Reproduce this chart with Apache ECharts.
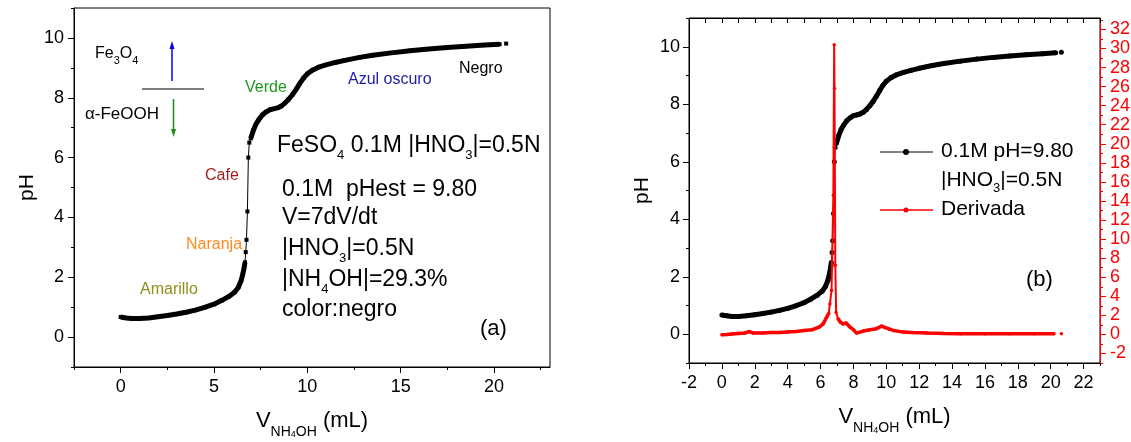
<!DOCTYPE html>
<html>
<head>
<meta charset="utf-8">
<script src="https://cdn.jsdelivr.net/npm/echarts@6/dist/echarts.min.js"></script>
<style>
html,body{margin:0;padding:0;background:#fff;}
#c{width:1131px;height:442px;}
</style>
</head>
<body>
<div id="c"></div>
<script>
// ---- data ----
const volume = [0.00,0.30,0.60,1.00,1.50,2.00,2.50,3.00,3.50,4.00,4.50,5.00,5.40,5.80,6.10,6.30,6.45,6.55,6.62,6.66,6.70,6.74,6.79,6.84,6.89,6.97,7.10,7.25,7.40,7.60,7.80,8.00,8.20,8.40,8.60,8.80,9.00,9.20,9.40,9.60,9.80,10.00,10.30,10.60,11.00,11.50,12.00,12.80,13.50,14.50,15.50,16.50,17.50,18.50,19.50,20.30,20.65];
const ph = [0.67,0.64,0.62,0.62,0.64,0.68,0.72,0.77,0.83,0.90,0.99,1.10,1.22,1.36,1.50,1.66,1.88,2.12,2.34,2.50,2.84,3.25,4.20,6.00,6.50,6.64,6.90,7.12,7.27,7.43,7.53,7.60,7.63,7.66,7.72,7.82,7.95,8.10,8.28,8.48,8.66,8.80,8.93,9.02,9.10,9.18,9.25,9.35,9.42,9.50,9.57,9.63,9.68,9.72,9.76,9.79,9.81];
const volumeDer = [0.00,0.30,0.60,1.00,1.40,1.65,1.90,2.50,3.00,3.50,4.00,4.50,5.00,5.50,5.90,6.16,6.37,6.50,6.57,6.67,6.78,6.83,6.85,6.90,6.95,7.07,7.20,7.38,7.55,7.79,8.00,8.19,8.40,8.60,9.00,9.40,9.72,9.90,10.20,10.43,11.04,11.60,12.50,13.50,14.50,16.00,17.50,19.00,20.20,20.65];
const derivative = [-0.03,0.00,0.05,0.10,0.15,0.30,0.15,0.15,0.20,0.20,0.25,0.30,0.40,0.50,0.75,1.10,1.80,2.20,3.20,4.60,14.60,30.40,25.80,7.25,2.30,1.65,1.30,1.10,1.20,0.77,0.50,0.14,0.24,0.35,0.49,0.60,0.87,0.75,0.55,0.42,0.24,0.20,0.14,0.10,0.07,0.07,0.07,0.07,0.07,0.07];

// tick labels
const volTicksA = [0,5,10,15,20];
const volMinorA = [-2.5,2.5,7.5,12.5,17.5,22.5];
const volTicksB = [-2,0,2,4,6,8,10,12,14,16,18,20,22];
const volMinorB = [-1,1,3,5,7,9,11,13,15,17,19,21,23];
const volAllB = [-2,-1,0,1,2,3,4,5,6,7,8,9,10,11,12,13,14,15,16,17,18,19,20,21,22,23];
const phTicks = [0,2,4,6,8,10];
const phMinor = [-1,1,3,5,7,9,11];
const derTicks = [-2,0,2,4,6,8,10,12,14,16,18,20,22,24,26,28,30,32];
const derMinor = [-3,-1,1,3,5,7,9,11,13,15,17,19,21,23,25,27,29,31,33];

// segments: steep jump and isolated final reading are drawn thin
const JUMP_LO = 6.66, JUMP_HI = 6.97, TAIL = 20.3;
const SPIKE_LO = 6.55, SPIKE_HI = 7.0;

const thickPH = volume.map((v,i) => (v > JUMP_LO && v < JUMP_HI) || v > TAIL ? [v, null] : [v, ph[i]]);
const thinPH = [];
volume.forEach((v,i) => { if (v > TAIL) thinPH.push([v, null]); thinPH.push([v, ph[i]]); });
const thickDer = volumeDer.map((v,i) => (v > SPIKE_LO && v < SPIKE_HI) || v > TAIL ? [v, null] : [v, derivative[i]]);
const thinDer = [];
volumeDer.forEach((v,i) => { if (v > TAIL) thinDer.push([v, null]); thinDer.push([v, derivative[i]]); });

const FONT = 'Liberation Sans, Arial, sans-serif';
const chart = echarts.init(document.getElementById('c'), null, {renderer: 'canvas'});

function xTitle() {
  return {
    name: '{b|V}{s|NH}{t|4}{s|OH}{b| (mL)}',
    nameLocation: 'middle',
    nameGap: 36,
    nameTextStyle: {
      fontFamily: FONT, color: '#000',
      rich: {
        b: {fontSize: 22, lineHeight: 36, fontFamily: FONT, color: '#000'},
        s: {fontSize: 14, lineHeight: 14, verticalAlign: 'bottom', fontFamily: FONT, color: '#000'},
        t: {fontSize: 9, lineHeight: 1, verticalAlign: 'bottom', fontFamily: FONT, color: '#000'}
      }
    }
  };
}
const axLine = {show: true, onZero: false, lineStyle: {color: '#000', width: 1}};
const noLine = {show: false, onZero: false};
const lbl = (vals, margin, color) => ({show: true, customValues: vals, margin: margin, fontSize: 18, fontFamily: FONT, color: color || '#000'});

function rt(x, y, text, size, color, subSize) {
  return {
    type: 'text', x: x, y: y, z: 100,
    style: {
      text: text, fill: color || '#000', align: 'left', verticalAlign: 'middle',
      font: size + 'px ' + FONT,
      rich: {
        b: {fontSize: size, lineHeight: size + 8, fontFamily: FONT, fill: color || '#000'},
        s: {fontSize: subSize || Math.round(size * 0.62), lineHeight: Math.round(size * 0.25), verticalAlign: 'bottom', fontFamily: FONT, fill: color || '#000'}
      }
    }
  };
}

const option = {
  animation: false,
  backgroundColor: '#fff',
  grid: [
    {left: 74, top: 8, width: 476, height: 359, outerBoundsMode: 'none', show: true, borderColor: '#000', borderWidth: 1, backgroundColor: 'transparent'},
    {left: 689, top: 18, width: 411, height: 345, outerBoundsMode: 'none', show: true, borderColor: '#000', borderWidth: 1, backgroundColor: 'transparent'}
  ],
  xAxis: [
    Object.assign({type: 'value', gridIndex: 0, min: -2.5, max: 23, position: 'bottom',
      axisLine: axLine, splitLine: {show: false},
      axisTick: {show: true, customValues: volTicksA, length: 6, lineStyle: {color: '#000'}},
      axisLabel: lbl(volTicksA, 11)}, xTitle()),
    {type: 'value', gridIndex: 0, min: -2.5, max: 23, position: 'bottom',
      axisLine: noLine, splitLine: {show: false},
      axisTick: {show: true, customValues: volMinorA, length: 3, lineStyle: {color: '#000'}},
      axisLabel: {show: false, customValues: volMinorA}},
    Object.assign({type: 'value', gridIndex: 1, min: -2, max: 23, position: 'bottom',
      axisLine: axLine, splitLine: {show: false},
      axisTick: {show: true, customValues: volTicksB, length: 6, lineStyle: {color: '#000'}},
      axisLabel: lbl(volTicksB, 11)}, xTitle()),
    {type: 'value', gridIndex: 1, min: -2, max: 23, position: 'bottom',
      axisLine: noLine, splitLine: {show: false},
      axisTick: {show: true, customValues: volMinorB, length: 3, lineStyle: {color: '#000'}},
      axisLabel: {show: false, customValues: volMinorB}},
    {type: 'value', gridIndex: 1, min: -2, max: 23, position: 'top',
      axisLine: axLine, splitLine: {show: false},
      axisTick: {show: true, inside: true, customValues: volAllB, length: 5, lineStyle: {color: '#000'}},
      axisLabel: {show: false, customValues: volAllB}}
  ],
  yAxis: [
    {type: 'value', gridIndex: 0, min: -1, max: 11, position: 'left',
      name: 'pH', nameLocation: 'middle', nameGap: 36, nameRotate: 90,
      nameTextStyle: {fontSize: 21, fontFamily: FONT, color: '#000'},
      axisLine: axLine, splitLine: {show: false},
      axisTick: {show: true, customValues: phTicks, length: 6, lineStyle: {color: '#000'}},
      axisLabel: lbl(phTicks, 10)},
    {type: 'value', gridIndex: 0, min: -1, max: 11, position: 'left', offset: 0,
      axisLine: noLine, splitLine: {show: false},
      axisTick: {show: true, customValues: phMinor, length: 3, lineStyle: {color: '#000'}},
      axisLabel: {show: false, customValues: phMinor}},
    {type: 'value', gridIndex: 1, min: -1, max: 11, position: 'left',
      name: 'pH', nameLocation: 'middle', nameGap: 36, nameRotate: 90,
      nameTextStyle: {fontSize: 21, fontFamily: FONT, color: '#000'},
      axisLine: axLine, splitLine: {show: false},
      axisTick: {show: true, customValues: phTicks, length: 6, lineStyle: {color: '#000'}},
      axisLabel: lbl(phTicks, 9)},
    {type: 'value', gridIndex: 1, min: -1, max: 11, position: 'left', offset: 0,
      axisLine: noLine, splitLine: {show: false},
      axisTick: {show: true, customValues: phMinor, length: 3, lineStyle: {color: '#000'}},
      axisLabel: {show: false, customValues: phMinor}},
    {type: 'value', gridIndex: 1, min: -3, max: 33.2, position: 'right',
      axisLine: {show: true, onZero: false, lineStyle: {color: '#ff0000', width: 1}}, splitLine: {show: false},
      axisTick: {show: true, customValues: derTicks, length: 6, lineStyle: {color: '#ff0000'}},
      axisLabel: lbl(derTicks, 10, '#ff0000')},
    {type: 'value', gridIndex: 1, min: -3, max: 33.2, position: 'right', offset: 0,
      axisLine: noLine, splitLine: {show: false},
      axisTick: {show: true, customValues: derMinor, length: 3, lineStyle: {color: '#ff0000'}},
      axisLabel: {show: false, customValues: derMinor}}
  ],
  series: [
    {type: 'line', xAxisIndex: 0, yAxisIndex: 0, data: thickPH, showSymbol: false, connectNulls: false,
      lineStyle: {color: '#000', width: 5}, z: 3},
    {type: 'line', xAxisIndex: 0, yAxisIndex: 0, data: thinPH, symbol: 'rect', symbolSize: 4, showAllSymbol: true, connectNulls: false,
      itemStyle: {color: '#000'}, lineStyle: {color: '#000', width: 1}, z: 4},
    {type: 'line', xAxisIndex: 2, yAxisIndex: 2, data: thickPH, showSymbol: false, connectNulls: false,
      lineStyle: {color: '#000', width: 5}, z: 3},
    {type: 'line', xAxisIndex: 2, yAxisIndex: 2, data: thinPH, symbol: 'circle', symbolSize: 5, showAllSymbol: true, connectNulls: false,
      itemStyle: {color: '#000'}, lineStyle: {color: '#000', width: 1}, z: 4},
    {type: 'line', xAxisIndex: 2, yAxisIndex: 4, data: thickDer, showSymbol: false, connectNulls: false,
      lineStyle: {color: '#ff0000', width: 3.5}, z: 5},
    {type: 'line', xAxisIndex: 2, yAxisIndex: 4, data: thinDer, symbol: 'circle', symbolSize: 3.5, showAllSymbol: true, connectNulls: false,
      itemStyle: {color: '#ff0000'}, lineStyle: {color: '#ff0000', width: 2}, z: 6}
  ],
  graphic: [
    // left panel annotations
    rt(95, 54, '{b|Fe}{s|3}{b|O}{s|4}', 16, '#000', 11),
    {type: 'line', shape: {x1: 172, y1: 81, x2: 172, y2: 47}, style: {stroke: '#0000ff', lineWidth: 1.5}},
    {type: 'polygon', shape: {points: [[169.5, 49], [174.5, 49], [172, 41]]}, style: {fill: '#0000ff'}},
    {type: 'line', shape: {x1: 142, y1: 89, x2: 204, y2: 89}, style: {stroke: '#000', lineWidth: 1}},
    rt(85, 114, '{b|α-FeOOH}', 17, '#000'),
    {type: 'line', shape: {x1: 173.5, y1: 99, x2: 173.5, y2: 130}, style: {stroke: '#1a8a1a', lineWidth: 1.5}},
    {type: 'polygon', shape: {points: [[171, 129], [176, 129], [173.5, 137]]}, style: {fill: '#1a8a1a'}},
    rt(245, 88, '{b|Verde}', 16, '#1e9a1e'),
    rt(205, 176, '{b|Cafe}', 16, '#9e1c1c'),
    rt(186, 245, '{b|Naranja}', 16, '#ff8a1e'),
    rt(140, 290, '{b|Amarillo}', 16, '#8f8f1a'),
    rt(348, 80, '{b|Azul oscuro}', 16, '#1c1ca8'),
    rt(459, 69, '{b|Negro}', 16, '#000'),
    rt(277, 146, '{b|FeSO}{s|4}{b| 0.1M |HNO}{s|3}{b||=0.5N}', 23, '#000', 13),
    rt(282, 190, '{b|0.1M  pHest = 9.80}', 23, '#000'),
    rt(282, 218, '{b|V=7dV/dt}', 23, '#000'),
    rt(282, 249, '{b||HNO}{s|3}{b||=0.5N}', 23, '#000', 13),
    rt(282, 280, '{b||NH}{s|4}{b|OH|=29.3%}', 23, '#000', 13),
    rt(282, 310, '{b|color:negro}', 23, '#000'),
    rt(480, 329, '{b|(a)}', 22, '#000'),
    // right panel legend and label
    {type: 'line', shape: {x1: 880, y1: 152, x2: 933, y2: 152}, style: {stroke: '#000', lineWidth: 1}},
    {type: 'circle', shape: {cx: 906, cy: 152, r: 3}, style: {fill: '#000'}},
    rt(941, 151, '{b|0.1M pH=9.80}', 21, '#000'),
    rt(941, 180, '{b||HNO}{s|3}{b||=0.5N}', 21, '#000', 13),
    {type: 'line', shape: {x1: 880, y1: 210, x2: 933, y2: 210}, style: {stroke: '#ff0000', lineWidth: 1.5}},
    {type: 'circle', shape: {cx: 906, cy: 210, r: 2.5}, style: {fill: '#ff0000'}},
    rt(941, 209, '{b|Derivada}', 21, '#000'),
    rt(1026, 280, '{b|(b)}', 22, '#000')
  ]
};
chart.setOption(option);
</script>
</body>
</html>
